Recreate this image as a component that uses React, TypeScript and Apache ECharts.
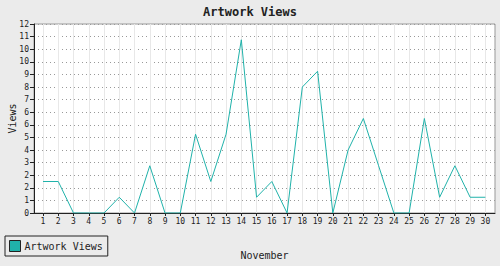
import React, { useEffect, useRef } from "react";
import * as echarts from "echarts";

const titleText = "Artwork Views";
const seriesName = "Artwork Views";
const xAxisName = "November";
const yAxisName = "Views";
const days = [1, 2, 3, 4, 5, 6, 7, 8, 9, 10, 11, 12, 13, 14, 15, 16, 17, 18, 19, 20, 21, 22, 23, 24, 25, 26, 27, 28, 29, 30];
const views = [2, 2, 0, 0, 0, 1, 0, 3, 0, 0, 5, 2, 5, 11, 1, 2, 0, 8, 9, 0, 4, 6, 3, 0, 0, 6, 1, 3, 1, 1];
const yMin = 0;
const yMax = 12;
const yStep = 0.8;

const FONT = "DejaVu Sans Mono";

export default function App() {
  const ref = useRef<HTMLDivElement>(null);
  useEffect(() => {
    document.body.style.margin = "0";
    const chart = echarts.init(ref.current!, null, { renderer: "svg" });
    chart.setOption({
      animation: false,
      backgroundColor: "#ebebeb",
      title: {
        text: titleText,
        left: "center",
        top: 6,
        padding: 0,
        textStyle: { fontFamily: FONT, fontSize: 12, fontWeight: "bold", color: "#222" },
      },
      legend: {
        left: 5,
        top: 236,
        orient: "horizontal",
        backgroundColor: "#ebebeb",
        borderColor: "#222",
        borderWidth: 1,
        borderRadius: 0,
        padding: [4, 5, 4, 4],
        itemWidth: 11,
        itemHeight: 11,
        itemGap: 5,
        icon: "rect",
        itemStyle: { borderColor: "#222", borderWidth: 1 },
        textStyle: { fontFamily: FONT, fontSize: 10, color: "#222", padding: [0, 0, 0, -1] },
        data: [seriesName],
      },
      grid: {
        left: 34,
        top: 24,
        right: 5,
        bottom: 53,
        show: true,
        backgroundColor: "#ffffff",
        borderColor: "#999",
        borderWidth: 1,
        containLabel: false,
        outerBoundsMode: "none",
      },
      xAxis: {
        type: "value",
        min: 0.41,
        max: 30.63,
        name: xAxisName,
        nameLocation: "middle",
        nameGap: 37,
        nameMoveOverlap: false,
        nameTextStyle: { fontFamily: FONT, fontSize: 10, color: "#222" },
        axisLine: { show: true, lineStyle: { color: "#222", width: 1 } },
        axisTick: { show: true, length: 3, customValues: days, lineStyle: { color: "#222" } },
        axisLabel: {
          customValues: days,
          fontFamily: FONT,
          fontSize: 8,
          color: "#222",
          margin: 4,
        },
        splitLine: { show: true, lineStyle: { color: "#e8e8e8", width: 1, type: "solid" } },
      },
      yAxis: {
        type: "value",
        min: yMin,
        max: yMax,
        interval: yStep,
        name: yAxisName,
        nameLocation: "middle",
        nameGap: 17,
        nameMoveOverlap: false,
        nameTextStyle: { fontFamily: FONT, fontSize: 10, color: "#222" },
        axisLine: { show: true, lineStyle: { color: "#222", width: 1 } },
        axisTick: { show: true, length: 4, lineStyle: { color: "#222" } },
        axisLabel: {
          fontFamily: FONT,
          fontSize: 8,
          color: "#222",
          margin: 5,
          formatter: (v: number) => String(Math.round(v)),
        },
        splitLine: { show: true, lineStyle: { color: "#999", width: 1, type: [1, 3] } },
      },
      series: [
        {
          name: seriesName,
          type: "line",
          data: days.map((d, i) => [d, views[i]]),
          showSymbol: false,
          symbol: "none",
          color: "#20b2aa",
          lineStyle: { color: "#20b2aa", width: 1 },
        },
      ],
    });
    return () => chart.dispose();
  }, []);
  return (
    <div
      ref={ref}
      style={{ position: "fixed", left: 0, top: 0, width: 500, height: 266 }}
    />
  );
}
